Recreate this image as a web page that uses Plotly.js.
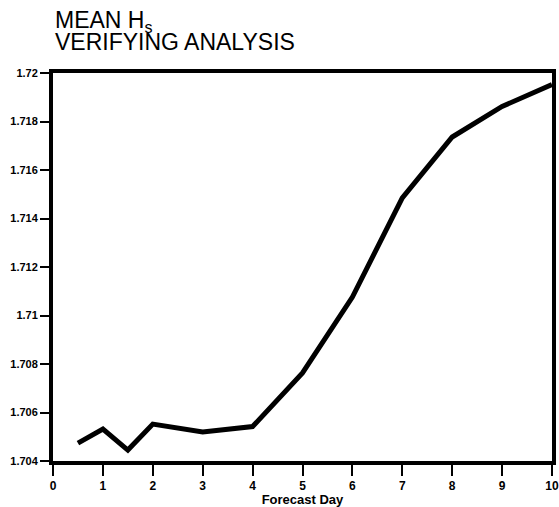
<!DOCTYPE html>
<html>
<head>
<meta charset="utf-8">
<script src="https://cdn.plot.ly/plotly-3.0.1.min.js"></script>
<style>html,body{margin:0;padding:0;background:#fff;}#chart{width:559px;height:507px;}</style>
</head>
<body>
<div id="chart"></div>
<script>
const forecastDay = [0.5, 1, 1.5, 2, 3, 4, 5, 6, 7, 8, 9, 10];
const meanHs = [1.70474, 1.70532, 1.70445, 1.70552, 1.7052, 1.70542, 1.70763, 1.71076, 1.71485, 1.71736, 1.71862, 1.71952];
const xTicks = [0, 1, 2, 3, 4, 5, 6, 7, 8, 9, 10];
const yTicks = [1.704, 1.706, 1.708, 1.71, 1.712, 1.714, 1.716, 1.718, 1.72];
const yTickText = ['1.704', '1.706', '1.708', '1.71', '1.712', '1.714', '1.716', '1.718', '1.72'];
const titleLine1 = 'MEAN H<sub>s</sub>';
const titleLine2 = 'VERIFYING ANALYSIS';
const xTitle = 'Forecast Day';

const fam = '"Liberation Sans", Arial, sans-serif';
const trace = {
  x: forecastDay, y: meanHs, type: 'scatter', mode: 'lines',
  line: {color: '#000', width: 5, shape: 'linear'}, hoverinfo: 'skip'
};
const layout = {
  width: 559, height: 507,
  margin: {l: 53, r: 7, t: 73, b: 46},
  paper_bgcolor: '#fff', plot_bgcolor: '#fff',
  showlegend: false,
  font: {family: fam, color: '#000'},
  xaxis: {
    range: [0, 10], tickvals: xTicks, ticktext: xTicks.map(String),
    showgrid: false, zeroline: false,
    showline: true, linecolor: '#000', linewidth: 4, mirror: true,
    ticks: 'outside', ticklen: 11, tickwidth: 2, tickcolor: '#000',
    tickfont: {family: fam, size: 12, weight: 'bold', color: '#000'},
    title: {text: xTitle, font: {family: fam, size: 13, weight: 'bold', color: '#000'}, standoff: 6}
  },
  yaxis: {
    range: [1.704, 1.72], tickvals: yTicks, ticktext: yTickText,
    showgrid: false, zeroline: false,
    showline: true, linecolor: '#000', linewidth: 4, mirror: true,
    ticks: 'outside', ticklen: 9, tickwidth: 2, tickcolor: '#000',
    tickfont: {family: fam, size: 11, weight: 'bold', color: '#000'}
  },
  annotations: [
    {text: titleLine1, xref: 'paper', yref: 'paper', x: 0, y: 1.132, xanchor: 'left', yanchor: 'middle',
     xshift: 0, showarrow: false, font: {family: fam, size: 23, color: '#000'}},
    {text: titleLine2, xref: 'paper', yref: 'paper', x: 0, y: 1.079, xanchor: 'left', yanchor: 'middle',
     xshift: 0, showarrow: false, font: {family: fam, size: 23, color: '#000'}}
  ]
};
Plotly.newPlot('chart', [trace], layout, {displayModeBar: false, staticPlot: true});
</script>
</body>
</html>
